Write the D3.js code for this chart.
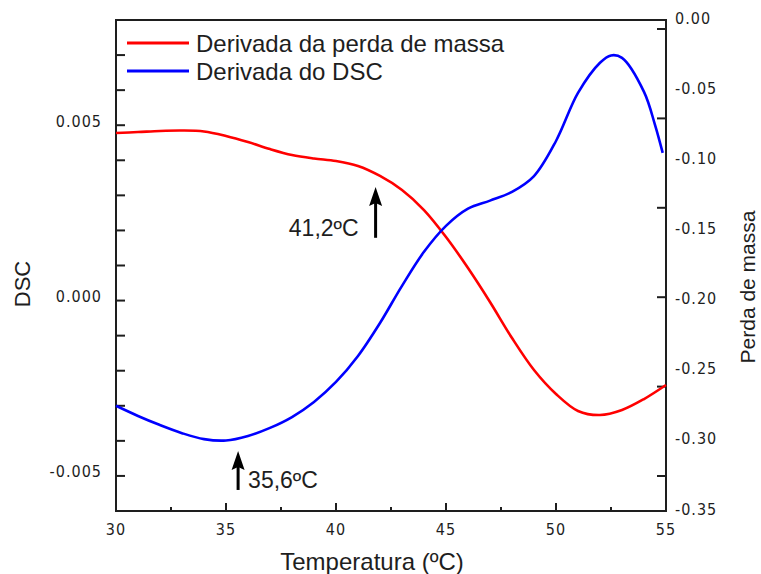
<!DOCTYPE html>
<html>
<head>
<meta charset="utf-8">
<script src="https://cdn.jsdelivr.net/npm/d3@7"></script>
<style>
  body { margin: 0; background: #fff; }
  svg text { fill: #1e1e1e; }
  .tick-label { font-family: "DejaVu Sans Condensed", "DejaVu Sans", sans-serif; font-size: 16px; letter-spacing: 1px; }
  .title { font-family: "Liberation Sans", Arial, sans-serif; }
</style>
</head>
<body>
<svg id="chart" width="761" height="574"></svg>
<script>
// temperature (ºC)
var temps = [30, 31, 32, 33, 34, 35, 36, 37, 38, 39, 40, 41, 42, 43, 44, 45, 46, 47, 48, 49, 50, 51, 52, 53, 54, 55];
// derivada da perda de massa (right axis)
var massLoss = [-0.0813, -0.0806, -0.0798, -0.0795, -0.0802, -0.0834, -0.0877, -0.0927, -0.0969, -0.0994,
                -0.1012, -0.1048, -0.1119, -0.1219, -0.1362, -0.1554, -0.1775, -0.2017, -0.2274, -0.2502,
                -0.2673, -0.2794, -0.2823, -0.2787, -0.2709, -0.2609];
// derivada do DSC (left axis)
var dscTemps = [30, 31, 32, 33, 34, 35, 36, 37, 38, 39, 40, 41, 42, 43, 44, 45, 46, 47, 48, 49, 50, 51, 52, 52.5, 53, 54, 54.5, 54.85];
var dsc = [-0.00300, -0.00329, -0.00355, -0.00378, -0.00395, -0.00399, -0.00386, -0.00363, -0.00332, -0.00289,
           -0.00232, -0.00158, -0.00064, 0.00042, 0.00139, 0.00213, 0.00262, 0.00285, 0.00310, 0.00355,
           0.00455, 0.00592, 0.00678, 0.00699, 0.00692, 0.00595, 0.00501, 0.00421];

var xTicks = [30, 35, 40, 45, 50, 55];
var xMinor = [32.5, 37.5, 42.5, 47.5, 52.5];
var leftLabels = [-0.005, 0.000, 0.005];
var rightLabels = [0.00, -0.05, -0.10, -0.15, -0.20, -0.25, -0.30, -0.35];

var annotations = [
  {text: '41,2ºC', t: 41.8, tip: 0.00324, base: 0.00179, anchor: 'end'},
  {text: '35,6ºC', t: 35.55, tip: -0.00429, base: -0.00540, anchor: 'start'}
];

var svg = d3.select('#chart');
var margin = {left: 116, top: 20, right: 95, bottom: 63};
var width = 761 - margin.left - margin.right;
var height = 574 - margin.top - margin.bottom;

var x = d3.scaleLinear().domain([30, 55]).range([margin.left, margin.left + width]);
var yL = d3.scaleLinear().domain([-0.006, 0.008]).range([margin.top + height, margin.top]);
var yR = d3.scaleLinear().domain([-0.35, 0]).range([510, 19]);
// right axis tick marks sit on their own spacing in the original
var yRTick = d3.scaleLinear().domain([0, 5]).range([476, 29]);

var axisColor = '#1e1e1e';
function hyphen(s) { return s.replace('\u2212', '-'); }

// frame
svg.append('rect')
  .attr('x', margin.left).attr('y', margin.top)
  .attr('width', width).attr('height', height)
  .attr('fill', 'none').attr('stroke', axisColor).attr('stroke-width', 2);

// bottom ticks
var g = svg.append('g').attr('stroke', axisColor).attr('stroke-width', 2);
g.selectAll('.xmaj').data(xTicks).enter().append('line')
  .attr('x1', d => x(d)).attr('x2', d => x(d))
  .attr('y1', margin.top + height).attr('y2', margin.top + height - 8);
g.selectAll('.xmin').data(xMinor).enter().append('line')
  .attr('x1', d => x(d)).attr('x2', d => x(d))
  .attr('y1', margin.top + height).attr('y2', margin.top + height - 4);
// left ticks every 0.001
g.selectAll('.yl').data(d3.range(-5, 8).map(d => d * 0.001)).enter().append('line')
  .attr('x1', margin.left).attr('x2', margin.left + 9)
  .attr('y1', d => yL(d)).attr('y2', d => yL(d));
// right ticks
g.selectAll('.yr').data(d3.range(0, 6)).enter().append('line')
  .attr('x1', margin.left + width).attr('x2', margin.left + width - 9)
  .attr('y1', d => yRTick(d)).attr('y2', d => yRTick(d));

// tick labels
svg.selectAll('.xl').data(xTicks).enter().append('text')
  .attr('class', 'tick-label')
  .attr('x', d => x(d)).attr('y', 535)
  .attr('text-anchor', 'middle')
  .text(d => d);
svg.selectAll('.ll').data(leftLabels).enter().append('text')
  .attr('class', 'tick-label')
  .attr('x', 102).attr('y', d => yL(d) - 3)
  .attr('text-anchor', 'end').attr('dominant-baseline', 'middle')
  .text(d => hyphen(d3.format('.3f')(d)));
svg.selectAll('.rl').data(rightLabels).enter().append('text')
  .attr('class', 'tick-label')
  .attr('x', 675).attr('y', d => yR(d))
  .attr('dominant-baseline', 'middle')
  .text(d => hyphen(d3.format('.2f')(d)));

// axis titles
svg.append('text').attr('class', 'title')
  .attr('x', 372).attr('y', 570)
  .attr('text-anchor', 'middle').attr('font-size', 24)
  .text('Temperatura (ºC)');
svg.append('text').attr('class', 'title')
  .attr('transform', 'translate(30,284) rotate(-90)')
  .attr('text-anchor', 'middle').attr('font-size', 22)
  .text('DSC');
svg.append('text').attr('class', 'title')
  .attr('transform', 'translate(755,287) rotate(-90)')
  .attr('text-anchor', 'middle').attr('font-size', 21)
  .text('Perda de massa');

// curves
var redLine = d3.line()
  .x((d, i) => x(temps[i]))
  .y(d => yR(d))
  .curve(d3.curveCatmullRom);
var blueLine = d3.line()
  .x((d, i) => x(dscTemps[i]))
  .y(d => yL(d))
  .curve(d3.curveCatmullRom);

svg.append('path').datum(massLoss)
  .attr('d', redLine)
  .attr('fill', 'none').attr('stroke', '#ff0000').attr('stroke-width', 2.6);
svg.append('path').datum(dsc)
  .attr('d', blueLine)
  .attr('fill', 'none').attr('stroke', '#0000ff').attr('stroke-width', 2.6);

// annotation arrows
annotations.forEach(function(a) {
  var ax = x(a.t), tipY = yL(a.tip), baseY = yL(a.base);
  svg.append('line')
    .attr('x1', ax).attr('x2', ax).attr('y1', tipY + 12).attr('y2', baseY)
    .attr('stroke', '#000').attr('stroke-width', 3);
  svg.append('path')
    .attr('d', 'M' + ax + ',' + tipY + ' L' + (ax - 6.5) + ',' + (tipY + 19) +
               ' L' + ax + ',' + (tipY + 16) + ' L' + (ax + 6.5) + ',' + (tipY + 19) + 'Z')
    .attr('fill', '#000');
  svg.append('text').attr('class', 'title')
    .attr('x', a.anchor === 'end' ? ax - 17 : ax + 10)
    .attr('y', baseY - 2)
    .attr('text-anchor', a.anchor)
    .attr('font-size', 23)
    .text(a.text);
});

// legend
var legendItems = [
  {label: 'Derivada da perda de massa', color: '#ff0000'},
  {label: 'Derivada do DSC', color: '#0000ff'}
];
var leg = svg.selectAll('.legend').data(legendItems).enter().append('g')
  .attr('transform', (d, i) => 'translate(127,' + (43 + i * 28) + ')');
leg.append('line').attr('x1', 0).attr('x2', 62)
  .attr('stroke', d => d.color).attr('stroke-width', 3);
leg.append('text').attr('class', 'title')
  .attr('x', 69).attr('y', 9)
  .attr('font-size', 24)
  .text(d => d.label);
</script>
</body>
</html>
